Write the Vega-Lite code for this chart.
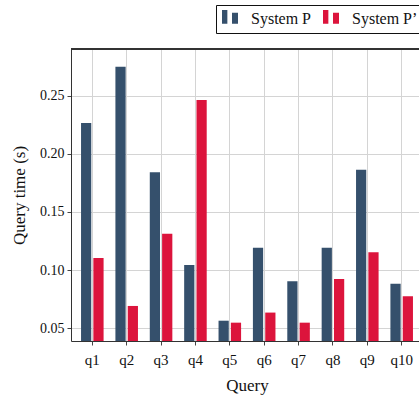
{
  "$schema": "https://vega.github.io/schema/vega-lite/v6.json",
  "autosize": {"type": "none"},
  "width": 348,
  "height": 292,
  "padding": {"left": 71, "top": 49, "right": 0, "bottom": 59},
  "background": "white",
  "data": {"values": [
    {"query": "q1", "system": "System P", "time": 0.2268},
    {"query": "q1", "system": "System P’", "time": 0.1103},
    {"query": "q2", "system": "System P", "time": 0.2752},
    {"query": "q2", "system": "System P’", "time": 0.0690},
    {"query": "q3", "system": "System P", "time": 0.1842},
    {"query": "q3", "system": "System P’", "time": 0.1313},
    {"query": "q4", "system": "System P", "time": 0.1043},
    {"query": "q4", "system": "System P’", "time": 0.2466},
    {"query": "q5", "system": "System P", "time": 0.0563},
    {"query": "q5", "system": "System P’", "time": 0.0546},
    {"query": "q6", "system": "System P", "time": 0.1192},
    {"query": "q6", "system": "System P’", "time": 0.0633},
    {"query": "q7", "system": "System P", "time": 0.0903},
    {"query": "q7", "system": "System P’", "time": 0.0546},
    {"query": "q8", "system": "System P", "time": 0.1192},
    {"query": "q8", "system": "System P’", "time": 0.0923},
    {"query": "q9", "system": "System P", "time": 0.1865},
    {"query": "q9", "system": "System P’", "time": 0.1152},
    {"query": "q10", "system": "System P", "time": 0.0882},
    {"query": "q10", "system": "System P’", "time": 0.0774}
  ]},
  "layer": [
    {
      "mark": {"type": "bar", "clip": true, "cornerRadius": 0},
      "encoding": {
        "x": {
          "field": "query", "type": "nominal", "sort": null,
          "scale": {"range": [0, 352], "paddingInner": 0, "paddingOuter": 0.12},
          "axis": {
            "title": "Query", "labelAngle": 0, "bandPosition": 0.5,
            "grid": true, "gridColor": "#d4d4d4", "gridWidth": 1,
            "ticks": true, "tickSize": 4, "tickColor": "#444", "tickBand": "center",
            "domainColor": "#333", "labelFontSize": 15, "labelPadding": 7, "titlePadding": 10
          }
        },
        "xOffset": {
          "field": "system", "type": "nominal",
          "scale": {"paddingInner": 0.17, "paddingOuter": 0.48}
        },
        "y": {
          "field": "time", "type": "quantitative",
          "scale": {"domain": [0.0388, 0.2905], "nice": false, "zero": false},
          "axis": {
            "title": "Query time (s)", "values": [0.05, 0.1, 0.15, 0.2, 0.25],
            "format": ".2f", "grid": true, "gridColor": "#d4d4d4", "gridWidth": 1,
            "tickSize": 4, "tickColor": "#444", "domainColor": "#333",
            "labelFontSize": 14, "labelPadding": 3, "titlePadding": 11
          }
        },
        "y2": {"datum": 0},
        "color": {
          "field": "system", "type": "nominal",
          "scale": {"domain": ["System P", "System P’"], "range": ["#35506c", "#dc143c"]},
          "legend": {
            "title": null, "orient": "none", "direction": "horizontal",
            "legendX": 145, "legendY": -44,
            "fillColor": "white", "strokeColor": "#111", "padding": 6,
            "symbolType": "M-1,-1.125H-0.33V0.59H-1Z M0.25,-0.79H1V0.59H0.25Z",
            "symbolSize": 256, "symbolStrokeWidth": 0, "symbolOpacity": 1,
            "labelOffset": 13, "columnPadding": 11,
            "labelFontSize": 16, "labelFont": "Liberation Serif", "labelColor": "#111"
          }
        }
      }
    },
    {
      "mark": {"type": "rule", "color": "#333", "strokeWidth": 1},
      "encoding": {"y": {"datum": 0.2905}}
    }
  ],
  "config": {
    "view": {"stroke": null},
    "font": "Liberation Serif",
    "axis": {
      "labelFont": "Liberation Serif", "labelColor": "#111",
      "titleFont": "Liberation Serif", "titleFontSize": 17, "titleFontWeight": "normal", "titleColor": "#111"
    },
    "legend": {"labelFont": "Liberation Serif"}
  }
}
